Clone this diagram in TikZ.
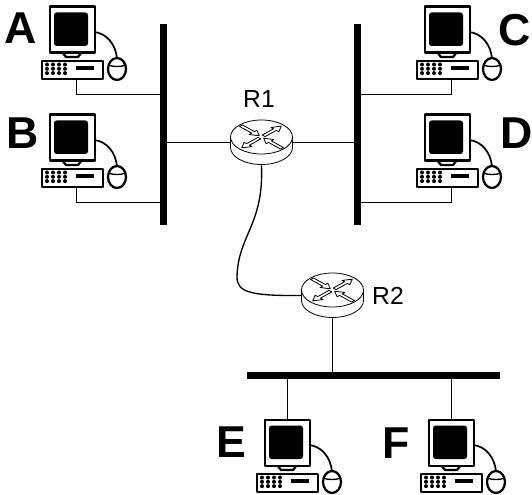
\documentclass[tikz,border=0pt]{standalone}
\usepackage{fontspec}
\setmainfont{Liberation Sans}
\tikzset{
  every picture/.style={line join=round},
  hostlabel/.style={font=\fontsize{33.5}{35}\selectfont\bfseries,inner sep=0pt},
  routerlabel/.style={font=\fontsize{18.5}{20}\selectfont,inner sep=0pt},
  busbar/.style={fill=black,draw=none,inner sep=0pt,rectangle},
  wire/.style={draw=black,line width=0.7pt},
  pcline/.style={draw=black,line width=1.7pt,fill=white},
  rline/.style={draw=black,line width=0.6pt,fill=white},
}
\newcommand{\pcdraw}[3]{%
  \begin{scope}[shift={(#2,#3)}]
    \draw[line width=1.3pt] (94,32) .. controls (106,33) and (116,44) .. (117,59);
    \draw[pcline] (62,52) -- (66,57) -- (78,57) -- (82,52) -- cycle;
    \node[pcline,minimum width=45pt*0.75,minimum height=46pt*0.75,inner sep=0pt,anchor=north west] (#1mon) at (48.5,5.5) {};
    \fill[rounded corners=2pt] (54,12.5) rectangle (88,46);
    \node[pcline,minimum width=61pt*0.75,minimum height=18pt*0.75,inner sep=0pt,anchor=north west] (#1kb) at (41,60) {};
    \foreach \i in {0,1,2,3}\foreach \j in {0,1,2}\fill (47+\i*6,64.5+\j*4.3) circle (2);
    \fill (76,66) rectangle (94,70);
    \draw[pcline] (117,69) ellipse (9 and 11);
    \draw[line width=1pt] (108.5,65) .. controls (112,67) and (122,67) .. (125.5,65);
    \coordinate (#1port) at (76,78);
  \end{scope}}
\newcommand{\routerdraw}[3]{%
  \begin{scope}[shift={(#2,#3)}]
    \draw[rline] (-31,-5) -- (-31,5.5) arc[start angle=180,end angle=0,x radius=31,y radius=17] -- (31,-5);
    \draw[rline] (0,-5) ellipse (31 and 17);
    \begin{scope}[shift={(0,-5)},yscale=0.55]
      \foreach \a in {45,225}{
        \draw[rline,rotate=\a] (3,-2) -- (19,-2) -- (19,-5.5) -- (28,0) -- (19,5.5) -- (19,2) -- (3,2) -- cycle;}
      \foreach \a in {135,315}{
        \draw[rline,rotate=\a] (29,-2) -- (12,-2) -- (12,-5.5) -- (3,0) -- (12,5.5) -- (12,2) -- (29,2) -- cycle;}
    \end{scope}
    \node[inner sep=0pt,minimum width=46.5pt,minimum height=33.75pt] (#1) at (0,0.5) {};
  \end{scope}}
\begin{document}
\begin{tikzpicture}[x=0.75pt,y=-0.75pt]
\useasboundingbox (0,0) rectangle (532,495);
\pcdraw{A}{0}{0}
\pcdraw{B}{0}{108}
\pcdraw{C}{375}{0}
\pcdraw{D}{375}{108}
\pcdraw{E}{215}{413}
\pcdraw{F}{379}{413}
\node[busbar,minimum width=5.25pt,minimum height=150.75pt] (busL) at (163.5,124.5) {};
\node[busbar,minimum width=5.25pt,minimum height=150.75pt] (busR) at (357.5,124.5) {};
\node[busbar,minimum width=189.75pt,minimum height=5.25pt] (busB) at (373.5,375.5) {};
\routerdraw{Ra}{261.5}{142}
\routerdraw{Rb}{332.5}{295}
\node[hostlabel] (la) at (21,28) {A};
\node[hostlabel] (lb) at (23,133) {B};
\node[hostlabel] (lc) at (515,30) {C};
\node[hostlabel] (ld) at (517,133) {D};
\node[hostlabel] (le) at (231,442) {E};
\node[hostlabel] (lf) at (396,443) {F};
\node[routerlabel] (l1) at (259,99) {R1};
\node[routerlabel] (l2) at (388,296) {R2};
\draw[wire] (Aport) |- (busL.west |- 0,94);
\draw[wire] (Bport) |- (busL.west |- 0,202);
\draw[wire] (Cport) |- (busR.east |- 0,94);
\draw[wire] (Dport) |- (busR.east |- 0,202);
\draw[wire] (Emon.north) -- (Emon.north |- busB.south);
\draw[wire] (Fmon.north) -- (Fmon.north |- busB.south);
\draw[wire] (Rb.south) -- (Rb.south |- busB.north);
\draw[wire] (Ra.west) -- (busL.east |- Ra.west);
\draw[wire] (Ra.east) -- (busR.west |- Ra.east);
\draw[draw=black,line width=1pt] (Ra.south) .. controls (264,225) and (238,235) .. (237,277) .. controls (237,292) and (250,296) .. (Rb.west);
\end{tikzpicture}
\end{document}
